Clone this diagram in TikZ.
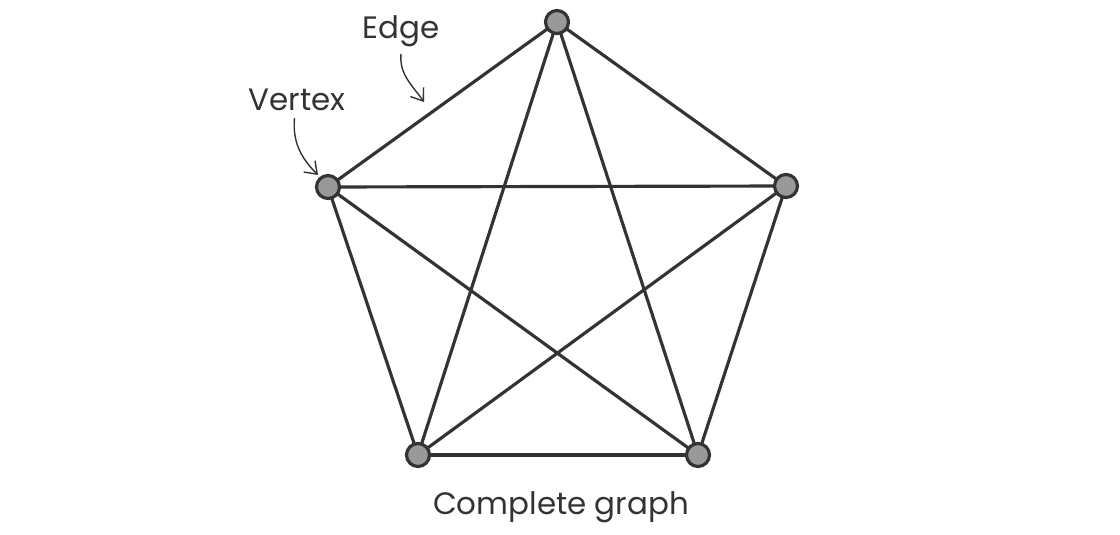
\documentclass[tikz,border=0pt]{standalone}
\usepackage{fontspec}
\setmainfont{Poppins}
\usepackage{xcolor}
\usetikzlibrary{arrows.meta,backgrounds}
\definecolor{EdgeDark}{HTML}{333333}
\definecolor{VertexGray}{HTML}{999999}
\tikzset{
  vertex/.style={circle, draw=EdgeDark, fill=VertexGray, line width=1.8pt, minimum size=0.46cm, inner sep=0pt},
  edgeline/.style={draw=EdgeDark, line width=1.8pt},
  tag/.style={text=EdgeDark, font=\fontsize{17.6}{20}\selectfont},
  pointer/.style={draw=EdgeDark, line width=0.8pt, -{Straight Barb[length=2.2mm, width=3.2mm]}}
}
\begin{document}
\begin{tikzpicture}
            \useasboundingbox (0,0) rectangle (22.4,-10.68);
            % the five vertices
            \node[vertex] (T) at (11.14,-0.44) {};
            \node[vertex] (L) at (6.56,-3.74) {};
            \node[vertex] (R) at (15.72,-3.72) {};
            \node[vertex] (BL) at (8.36,-9.10) {};
            \node[vertex] (BR) at (13.96,-9.10) {};

            % every pair joined, behind the vertices
            \begin{pgfonlayer}{background}
            \foreach \a/\b in {T/L, T/R, T/BL, T/BR, L/R, L/BL, L/BR, R/BL, R/BR, BL/BR}
              \draw[edgeline] (\a.center) -- (\b.center);
            \end{pgfonlayer}

            % labels
            \node[tag] (edgetxt) at (8.02,-0.62) {Edge};
            \node[tag] (vertextxt) at (5.94,-2.00) {Vertex};
            \node[tag] (caption) at (11.22,-10.14) {Complete graph};

            \coordinate (edgetip) at (8.48,-2.04);
            \coordinate (vertextip) at (6.36,-3.50);
            \draw[pointer] (edgetxt.south) ++(0,-0.02) to[out=-95, in=125] (edgetip);
            \draw[pointer] (vertextxt.south) ++(-0.05,-0.02) to[out=-95, in=135] (vertextip);
        \end{tikzpicture}
\end{document}
